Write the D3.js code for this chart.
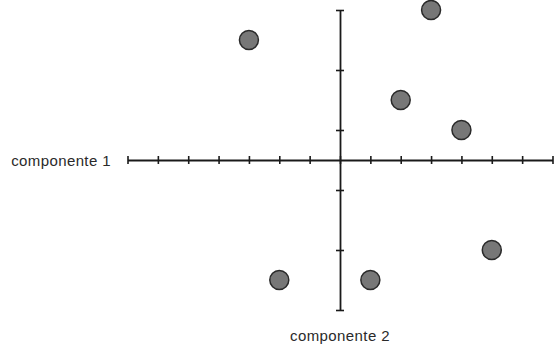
<!DOCTYPE html>
<html>
<head>
<meta charset="utf-8">
<script src="https://cdn.jsdelivr.net/npm/d3@7"></script>
<style>
  html, body { margin: 0; padding: 0; background: #fff; }
  svg { display: block; }
  text { font-family: "Liberation Sans", Arial, Helvetica, sans-serif; }
</style>
</head>
<body>
<svg id="chart" width="554" height="347"></svg>
<script>
// Scores on the first two components
const comp1Values = [3, 2, 4, -3, -2, 1, 5];
const comp2Values = [5, 2, 1, 4, -4, -4, -3];

// Tick positions along each axis
const comp1Ticks = [-7, -6, -5, -4, -3, -2, -1, 0, 1, 2, 3, 4, 5, 6, 7];
const comp2Ticks = [-5, -3, -1, 1, 3, 5];

const axisLabels = ["componente 1", "componente 2"];

const svg = d3.select("#chart");

const x = d3.scaleLinear().domain([-7, 7]).range([127.5, 552.5]);
const y = d3.scaleLinear().domain([-5, 5]).range([310, 10]);

const axisColor = "#1a1a1a";
const tickHalf = 4;

// Horizontal axis through the origin, ticks crossing the line
const gx = svg.append("g")
  .attr("transform", `translate(0,${y(0)})`)
  .call(d3.axisBottom(x).tickValues(comp1Ticks).tickFormat("").tickSizeOuter(0));
gx.select(".domain").attr("stroke", axisColor).attr("stroke-width", 1.8);
gx.selectAll(".tick line")
  .attr("y1", -tickHalf).attr("y2", tickHalf)
  .attr("stroke", axisColor).attr("stroke-width", 1.6);

// Vertical axis through the origin
const gy = svg.append("g")
  .attr("transform", `translate(${x(0)},0)`)
  .call(d3.axisLeft(y).tickValues(comp2Ticks).tickFormat("").tickSizeOuter(0));
gy.select(".domain").attr("stroke", axisColor).attr("stroke-width", 1.8);
gy.selectAll(".tick line")
  .attr("x1", -tickHalf).attr("x2", tickHalf)
  .attr("stroke", axisColor).attr("stroke-width", 1.6);

// Axis titles
svg.append("text")
  .attr("x", 111).attr("y", y(0) + 6)
  .attr("text-anchor", "end")
  .attr("font-size", 15)
  .attr("letter-spacing", 0.4)
  .attr("fill", "#2a2a2a")
  .text(axisLabels[0]);

svg.append("text")
  .attr("x", x(0)).attr("y", 341)
  .attr("text-anchor", "middle")
  .attr("font-size", 15)
  .attr("letter-spacing", 0.4)
  .attr("fill", "#2a2a2a")
  .text(axisLabels[1]);

// Points
svg.append("g")
  .selectAll("circle")
  .data(d3.zip(comp1Values, comp2Values))
  .join("circle")
  .attr("cx", d => x(d[0]))
  .attr("cy", d => y(d[1]))
  .attr("r", 9.5)
  .attr("fill", "#777777")
  .attr("stroke", "#2a2a2a")
  .attr("stroke-width", 1.5);
</script>
</body>
</html>
